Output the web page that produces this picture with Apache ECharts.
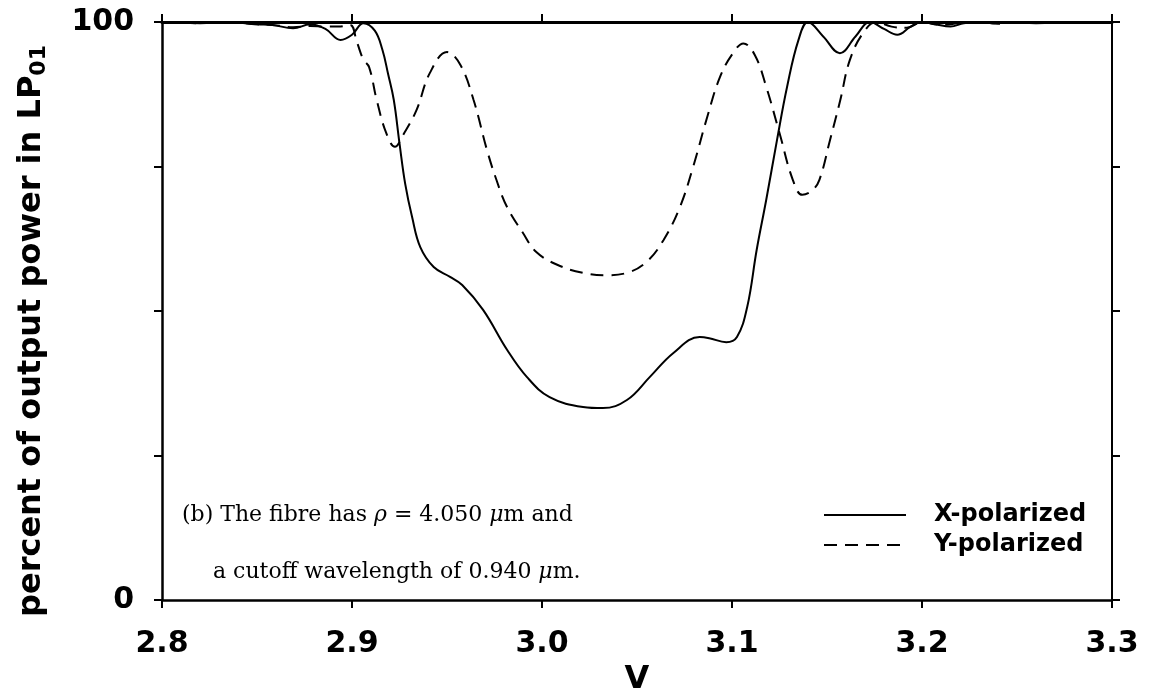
<!DOCTYPE html>
<html><head><meta charset="utf-8">
<script src="https://cdn.jsdelivr.net/npm/echarts@6/dist/echarts.min.js"></script>
<style>html,body{margin:0;padding:0;background:#fff}#c{width:1150px;height:690px}</style>
</head><body><div id="c"></div>
<script>
// ---- data ----
const seriesNames = ['X-polarized', 'Y-polarized'];
const xPolV = [2.800,2.820,2.835,2.850,2.858,2.869,2.878,2.886,2.894,2.900,2.906,2.912,2.916,2.919,2.922,2.925,2.928,2.9316,2.936,2.943,2.9516,2.958,2.969,2.9816,2.992,3.004,3.0216,3.032,3.0447,3.0568,3.069,3.083,3.088,3.097,3.1026,3.108,3.113,3.118,3.1237,3.129,3.135,3.140,3.148,3.1568,3.165,3.1726,3.180,3.187,3.194,3.200,3.207,3.215,3.222,3.230,3.237,3.245,3.260,3.280,3.300];
const xPolP = [100,99.8,100,99.6,99.5,98.9,99.6,98.8,96.9,97.8,99.8,98.5,95.2,91,86.5,79,72,66.3,61,57.6,55.9,54.5,50.2,43.3,38.6,35.1,33.4,33.2,34.6,38.6,42.7,45.5,45.3,44.6,45.5,50.7,60.6,69.2,79.6,88.8,96.9,100,97.5,94.6,97.5,100,98.8,97.8,99.2,100,99.6,99.2,99.8,100,99.8,100,99.8,100,100];
const yPolV = [2.800,2.820,2.835,2.850,2.858,2.869,2.878,2.886,2.893,2.899,2.9026,2.906,2.909,2.913,2.918,2.9226,2.927,2.934,2.941,2.950,2.957,2.964,2.971,2.976,2.9816,2.990,2.997,3.008,3.0216,3.034,3.0447,3.055,3.064,3.0726,3.0795,3.087,3.0937,3.1005,3.106,3.112,3.118,3.125,3.132,3.137,3.142,3.146,3.1516,3.157,3.162,3.169,3.176,3.184,3.192,3.200,3.210,3.220,3.230,3.240,3.250,3.300];
const yPolP = [100,99.8,100,99.6,99.5,99.1,99.3,99.2,99.2,99.5,96.5,93.5,92.2,86.5,80.8,78.4,80.5,84.8,91.2,94.8,92.6,86.5,77.9,72.7,68,63.5,60.2,58,56.6,56.2,56.6,58.5,62.3,68,74.9,83.6,90.5,94.6,96.3,94.3,88.8,80.8,72.7,70.1,70.8,72.7,79.6,86.5,93.4,98.1,100,99.2,99.0,100,99.5,99.8,100,99.7,100,100];
const xTickValues = [2.8, 2.9, 3.0, 3.1, 3.2, 3.3];
const yTickValues = [0, 25, 50, 75, 100];
const yLabelled = [0, 100];
const xAxisTitle = 'V';
const yAxisTitle = 'percent of output power in LP{sub|01}';
const noteLine1 = ['(b) The fibre has ', 'ρ', ' = 4.050 ', 'μ', 'm and'];
const noteLine2 = ['a cutoff wavelength of 0.940 ', 'μ', 'm.'];

// ---- chart ----
const chart = echarts.init(document.getElementById('c'), null, {renderer: 'canvas'});
const zip = (a, b) => a.map((v, i) => [v, b[i]]);
const sans = 'DejaVu Sans';
const serif = 'DejaVu Serif';
const tickCommon = {show: true, inside: false, length: 8, lineStyle: {color: '#000', width: 2}};
function richNote(parts) {
  return parts.map(p => (p === 'ρ' || p === 'μ') ? '{it|' + p + '}' : '{n|' + p + '}').join('');
}
const noteRich = {
  n: {fontFamily: serif, fontSize: 22, color: '#000'},
  it: {fontFamily: serif, fontStyle: 'italic', fontSize: 22, color: '#000'}
};

chart.setOption({
  backgroundColor: '#fff',
  animation: false,
  grid: {left: 162, right: 38, top: 22, bottom: 90, containLabel: false, outerBoundsMode: 'none'},
  legend: {
    orient: 'vertical', left: 823, top: 503, padding: 0, itemWidth: 82, itemHeight: 14, itemGap: 6,
    data: seriesNames,
    itemStyle: {opacity: 0},
    textStyle: {fontFamily: sans, fontWeight: 'bold', fontSize: 24, color: '#000', padding: [0, 0, 0, 23]}
  },
  xAxis: [{
    type: 'value', position: 'bottom', min: 2.8, max: 3.3, interval: 0.1,
    name: xAxisTitle, nameLocation: 'middle', nameGap: 62,
    nameTextStyle: {fontFamily: sans, fontWeight: 'bold', fontSize: 32, color: '#000'},
    axisLine: {show: true, onZero: false, lineStyle: {color: '#000', width: 2.5}},
    axisTick: tickCommon,
    axisLabel: {margin: 29, fontFamily: sans, fontWeight: 'bold', fontSize: 30, color: '#000',
      formatter: v => xTickValues.some(t => Math.abs(t - v) < 1e-6) ? v.toFixed(1) : ''},
    splitLine: {show: false}
  }, {
    type: 'value', position: 'top', min: 2.8, max: 3.3, interval: 0.1,
    axisLine: {show: true, onZero: false, lineStyle: {color: '#000', width: 3}},
    axisTick: tickCommon, axisLabel: {show: false}, splitLine: {show: false}
  }],
  yAxis: [{
    type: 'value', position: 'left', min: 0, max: 100, interval: 25,
    name: yAxisTitle, nameLocation: 'middle', nameGap: 112, nameRotate: 90,
    nameTextStyle: {fontFamily: sans, fontWeight: 'bold', fontSize: 32, color: '#000', padding: [0, 40, 0, 0],
      rich: {sub: {fontFamily: sans, fontWeight: 'bold', fontSize: 22, color: '#000', verticalAlign: 'bottom', padding: [14, 0, 0, 0]}}},
    axisLine: {show: true, onZero: false, lineStyle: {color: '#000', width: 2.5}},
    axisTick: tickCommon,
    axisLabel: {margin: 28, fontFamily: sans, fontWeight: 'bold', fontSize: 30, color: '#000',
      formatter: v => yLabelled.indexOf(v) >= 0 ? String(v) : ''},
    splitLine: {show: false}
  }, {
    type: 'value', position: 'right', min: 0, max: 100, interval: 25,
    axisLine: {show: true, onZero: false, lineStyle: {color: '#000', width: 2}},
    axisTick: tickCommon, axisLabel: {show: false}, splitLine: {show: false}
  }],
  graphic: [
    {type: 'text', left: 182, top: 504, style: {text: richNote(noteLine1), rich: noteRich}},
    {type: 'text', left: 213, top: 561, style: {text: richNote(noteLine2), rich: noteRich}}
  ],
  series: [{
    name: seriesNames[0], type: 'line', xAxisIndex: 0, yAxisIndex: 0,
    data: zip(xPolV, xPolP), smooth: 0.4, showSymbol: false, symbol: 'none',
    lineStyle: {color: '#000', width: 2, type: 'solid'}, itemStyle: {color: '#000'}
  }, {
    name: seriesNames[1], type: 'line', xAxisIndex: 0, yAxisIndex: 0,
    data: zip(yPolV, yPolP), smooth: 0.4, showSymbol: false, symbol: 'none',
    lineStyle: {color: '#000', width: 2, type: [13, 8]}, itemStyle: {color: '#000'}
  }]
});
</script></body></html>
